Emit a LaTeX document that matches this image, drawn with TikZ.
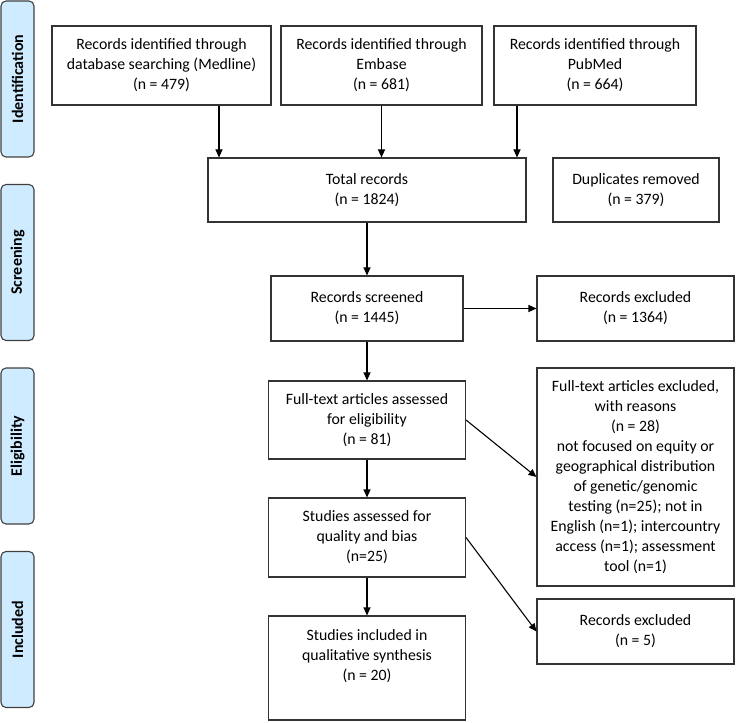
\documentclass[tikz,border=0pt]{standalone}
\usepackage{fontspec}
\setmainfont{Carlito}
\usetikzlibrary{arrows.meta}
\definecolor{phaseblue}{RGB}{206,235,255}

\begin{document}
\begin{tikzpicture}[x=1pt,y=-1pt,
		box/.style={draw=black!80,line width=1.1pt,align=center,inner sep=2pt,
			font=\fontsize{15.8}{20}\selectfont},
		phase/.style={draw=black!75,line width=1.1pt,fill=phaseblue,rounded corners=5pt,
			rotate=90,minimum width=156pt,minimum height=33pt,
			font=\fontsize{16}{20}\selectfont\bfseries},
		arr/.style={-{Triangle[length=8pt,width=7pt]},line width=1.1pt}]
			\useasboundingbox (0,0) rectangle (751,722);

			% phases
			\node[phase] (pid)   at (17.5,79)    {Identification};
			\node[phase] (pscr)  at (17.5,262.5) {Screening};
			\node[phase] (pelig) at (17.5,446)   {Eligibility};
			\node[phase] (pinc)  at (17.5,629.5) {Included};

			% identification
			\node[box,minimum width=219pt,minimum height=79pt] (med) at (161.5,65.5)
				{Records identified through\\database searching (Medline)\\(n = 479)};
			\node[box,minimum width=201pt,minimum height=79pt] (emb) at (381.5,65.5)
				{Records identified through\\Embase\\(n = 681)};
			\node[box,minimum width=202pt,minimum height=79pt] (pub) at (595,65.5)
				{Records identified through\\PubMed\\(n = 664)};

			% screening
			\node[box,minimum width=318pt,minimum height=64pt] (tot) at (367,190)
				{Total records\\(n = 1824)};
			\node[box,minimum width=166pt,minimum height=64pt] (dup) at (636,190)
				{Duplicates removed\\(n = 379)};
			\node[box,minimum width=192pt,minimum height=65pt] (scr) at (367,308.5)
				{Records screened\\(n = 1445)};
			\node[box,minimum width=197pt,minimum height=65pt] (exc) at (635.5,308.5)
				{Records excluded\\(n = 1364)};

			% eligibility
			\node[box,minimum width=197pt,minimum height=78pt] (ft) at (367,420)
				{Full-text articles assessed\\for eligibility\\(n = 81)};
			\node[box,minimum width=197pt,minimum height=218pt] (ftx) at (635.5,477)
				{Full-text articles excluded,\\with reasons\\(n = 28)\\not focused on equity or\\geographical distribution\\of genetic/genomic\\testing (n=25); not in\\English (n=1); intercountry\\access (n=1); assessment\\tool (n=1)};
			\node[box,minimum width=197pt,minimum height=79pt] (qa) at (367,537.5)
				{Studies assessed for\\quality and bias\\(n=25)};

			% included
			\node[box,minimum width=197pt,minimum height=104pt] (inc) at (367,668)
				{Studies included in\\qualitative synthesis\\(n = 20)\\\strut};
			\node[box,minimum width=197pt,minimum height=65pt] (exc2) at (635.5,631.5)
				{Records excluded\\(n = 5)};

			% arrows
			\coordinate (xmed) at (219,0);
			\coordinate (xpub) at (517,0);
			\draw[arr] (med.south -| xmed) -- (tot.north -| xmed);
			\draw[arr] (emb.south) -- (emb.south |- tot.north);
			\draw[arr] (pub.south -| xpub) -- (tot.north -| xpub);
			\draw[arr] (tot) -- (scr);
			\draw[arr] (scr) -- (exc);
			\draw[arr] (scr) -- (ft);
			\draw[arr] (ft.east) -- (ftx.west);
			\draw[arr] (ft) -- (qa);
			\draw[arr] (qa) -- (inc);
			\draw[arr] (qa.east) -- (exc2.west);
\end{tikzpicture}
\end{document}
